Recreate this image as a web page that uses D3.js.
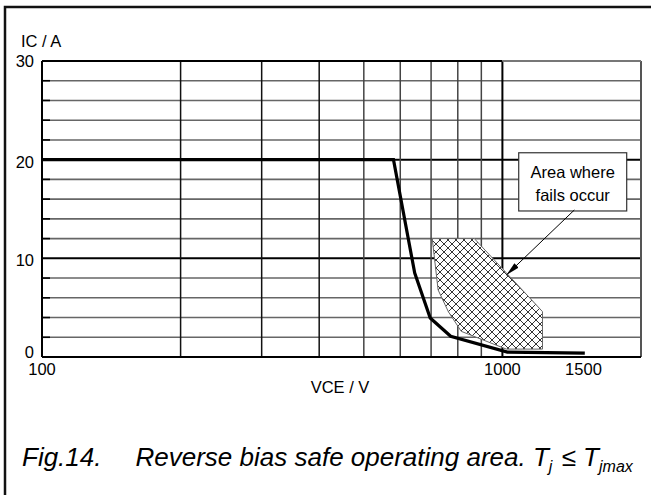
<!DOCTYPE html>
<html><head><meta charset="utf-8">
<script src="https://cdn.jsdelivr.net/npm/d3@7"></script>
<style>body{margin:0;background:#fff;} svg{display:block;font-family:"Liberation Sans",Arial,Helvetica,sans-serif;}</style>
</head><body>
<svg id="c" width="651" height="495"></svg>
<script>
// ---- data ----
const xGrid = [100,200,300,400,500,600,700,800,900,1000];
const yGrid = [2,4,6,8,10,12,14,16,18,20,22,24,26,28];
const xTickLabels = [100,1000,1500];
const yTickLabels = [0,10,20,30];
const rbsoaV = [100,580,645,697,772,1025,1510];
const rbsoaI = [20,20,8.5,3.95,2.1,0.5,0.4];
const failV = [704,869,1222,1222,1020,814,763,725];
const failI = [12,12,4.6,0.8,0.8,2.6,4.6,6.8];
const calloutLines = ["Area where","fails occur"];
const calloutBoxV = [1085,1862];
const calloutBoxI = [20.7,14.8];
const arrowV = [1433,1020];
const arrowI = [14.9,8.3];

const svg = d3.select("#c");
const x = d3.scaleLog().domain([100,2000]).range([42,641]);
const y = d3.scaleLinear().domain([0,30]).range([357,61]);

// outer frame
svg.append("rect").attr("x",5).attr("y",7).attr("width",700).attr("height",600)
  .attr("fill","none").attr("stroke","#111").attr("stroke-width",2.5);

// hatch pattern
const defs = svg.append("defs");
const pat = defs.append("pattern").attr("id","hatch").attr("patternUnits","userSpaceOnUse")
  .attr("width",8).attr("height",8);
pat.append("path").attr("d","M0,0 L8,8 M-1,7 L1,9 M7,-1 L9,1 M0,8 L8,0 M-1,1 L1,-1 M7,9 L9,7")
  .attr("stroke","#000").attr("stroke-width",0.8);

const g = svg.append("g");
// horizontal grid
yGrid.forEach(v=>{
  const major = v%10===0;
  g.append("line").attr("x1",x(100)).attr("x2",x(2000)).attr("y1",y(v)).attr("y2",y(v))
    .attr("stroke",major?"#000":"#666").attr("stroke-width",major?2:1.6);
  if(!major) g.append("line").attr("x1",x(100)).attr("x2",x(100)+8).attr("y1",y(v)).attr("y2",y(v))
    .attr("stroke","#000").attr("stroke-width",1.6);
});
// vertical grid
xGrid.forEach(v=>{
  const major = (v===100||v===1000);
  g.append("line").attr("x1",x(v)).attr("x2",x(v)).attr("y1",y(0)).attr("y2",y(30))
    .attr("stroke",major?"#000":(v<=400?"#111":"#444")).attr("stroke-width",major?2:1.5);
});
// borders
g.append("line").attr("x1",x(2000)).attr("x2",x(2000)).attr("y1",y(0)).attr("y2",y(30)).attr("stroke","#555").attr("stroke-width",2);
g.append("line").attr("x1",x(100)).attr("x2",x(1000)).attr("y1",y(30)).attr("y2",y(30)).attr("stroke","#000").attr("stroke-width",2);
g.append("line").attr("x1",x(1000)).attr("x2",x(2000)).attr("y1",y(30)).attr("y2",y(30)).attr("stroke","#777").attr("stroke-width",2);
g.append("line").attr("x1",x(100)).attr("x2",x(2000)).attr("y1",y(0)).attr("y2",y(0)).attr("stroke","#000").attr("stroke-width",2);

// fail area
const failPts = failV.map((v,i)=>[x(v),y(failI[i])]);
g.append("path").attr("d",d3.line()(failPts)+"Z").attr("fill","#fff").attr("stroke","none");
g.append("path").attr("d",d3.line()(failPts)+"Z").attr("fill","url(#hatch)")
  .attr("stroke","#666").attr("stroke-width",1);

// RBSOA curve
const curvePts = rbsoaV.map((v,i)=>[x(v),y(rbsoaI[i])]);
g.append("path").attr("d",d3.line()(curvePts)).attr("fill","none").attr("stroke","#000")
  .attr("stroke-width",3.2).attr("stroke-linejoin","miter");

// callout
const bx0=x(calloutBoxV[0]), bx1=x(calloutBoxV[1]), by0=y(calloutBoxI[0]), by1=y(calloutBoxI[1]);
g.append("rect").attr("x",bx0).attr("y",by0).attr("width",bx1-bx0).attr("height",by1-by0)
  .attr("fill","#fff").attr("stroke","#333").attr("stroke-width",1.2);
calloutLines.forEach((t,i)=>{
  g.append("text").attr("x",(bx0+bx1)/2).attr("y",by0+25+i*23).attr("text-anchor","middle")
    .attr("font-size",16.5).attr("fill","#000").text(t);
});
defs.append("marker").attr("id","arr").attr("viewBox","0 0 14 6").attr("refX",14).attr("refY",3)
  .attr("markerWidth",14).attr("markerHeight",6).attr("markerUnits","userSpaceOnUse").attr("orient","auto")
  .append("path").attr("d","M0,0 L14,3 L0,6 Z").attr("fill","#000");
g.append("line").attr("x1",x(arrowV[0])).attr("y1",y(arrowI[0])).attr("x2",x(arrowV[1])).attr("y2",y(arrowI[1]))
  .attr("stroke","#000").attr("stroke-width",1).attr("marker-end","url(#arr)");

// tick labels
const yOff = {0:1, 10:8, 20:8, 30:6};
yTickLabels.forEach(v=>{
  svg.append("text").attr("x",34).attr("y",y(v)+yOff[v]).attr("text-anchor","end")
    .attr("font-size",16.5).text(v);
});
xTickLabels.forEach(v=>{
  svg.append("text").attr("x",x(v)).attr("y",375).attr("text-anchor","middle")
    .attr("font-size",16.5).text(v);
});
svg.append("text").attr("x",21).attr("y",47).attr("font-size",16.5).text("IC / A");
svg.append("text").attr("x",340).attr("y",393).attr("text-anchor","middle").attr("font-size",16.5).text("VCE / V");

// caption
const cap = svg.append("text").attr("x",22).attr("y",466).attr("font-size",26).attr("font-style","italic");
cap.append("tspan").text("Fig.14.");
cap.append("tspan").attr("dx",34).text("Reverse bias safe operating area. T");
cap.append("tspan").attr("font-size",16).attr("dy",6).text("j");
cap.append("tspan").attr("dy",-6).attr("dx",2).text(" ≤ T");
cap.append("tspan").attr("font-size",16).attr("dy",6).text("jmax");
</script>
</body></html>
